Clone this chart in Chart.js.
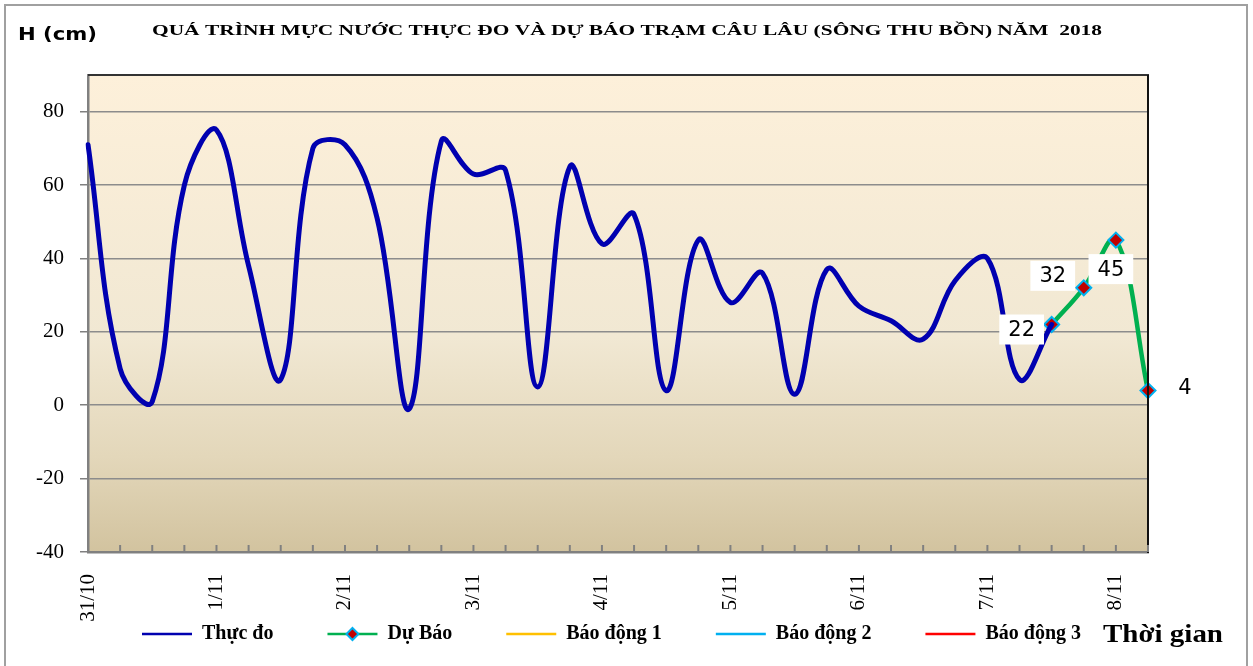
<!DOCTYPE html>
<html><head><meta charset="utf-8">
<script src="https://cdn.jsdelivr.net/npm/chart.js@4.4.1/dist/chart.umd.min.js"></script>
<style>html,body{margin:0;padding:0;background:#fff;} #wrap{position:relative;width:1253px;height:666px;} canvas{display:block}</style>
</head><body><div id="wrap"><canvas id="c"></canvas></div>
<script>
// ---- data ----
const dayLabels = ['31/10','1/11','2/11','3/11','4/11','5/11','6/11','7/11','8/11'];
const stepsPerDay = 4; // one category every 6 hours
const observed = [71, 10, 1, 60, 75, 38, 7, 70, 71, 51, -1, 72, 63, 64, 5, 65, 44, 52, 4, 45, 28, 36, 3, 37, 27, 23, 18, 34, 40, 7, 22];
const forecast = [22, 32, 45, 4];
const yTicks = [-40, -20, 0, 20, 40, 60, 80];
const seriesNames = ['Thực đo', 'Dự Báo', 'Báo động 1', 'Báo động 2', 'Báo động 3'];
const titleText = 'QUÁ TRÌNH MỰC NƯỚC THỰC ĐO VÀ DỰ BÁO TRẠM CÂU LÂU (SÔNG THU BỒN) NĂM  2018';
const yTitle = 'H (cm)';
const xTitle = 'Thời gian';

// ---- derived ----
const nCat = observed.length - 1 + forecast.length;
const categories = Array.from({length: nCat}, (_, i) => i % stepsPerDay === 0 ? (dayLabels[i / stepsPerDay] || '') : '');
const forecastData = Array(observed.length - 1).fill(null).concat(forecast);

// label offsets (px) relative to each forecast point
const labelOffsets = [[-30, 5], [-31, -12], [-5, 29], [37, -3]];

const SERIF = "'Liberation Serif', 'Times New Roman', serif";
const SANS = "'DejaVu Sans', Verdana, sans-serif";

function diamond(ctx, x, y, r, fill, stroke, lw) {
  ctx.beginPath();
  ctx.moveTo(x, y - r); ctx.lineTo(x + r, y); ctx.lineTo(x, y + r); ctx.lineTo(x - r, y); ctx.closePath();
  ctx.fillStyle = fill; ctx.fill();
  ctx.lineWidth = lw; ctx.strokeStyle = stroke; ctx.stroke();
}

// draw text horizontally stretched to a target width
function wideText(ctx, txt, font, x, y, targetW, align) {
  ctx.save();
  ctx.font = font;
  const w = ctx.measureText(txt).width;
  const sx = targetW / w;
  ctx.textBaseline = 'middle';
  ctx.textAlign = 'left';
  const left = align === 'center' ? x - targetW / 2 : x;
  ctx.translate(left, y);
  ctx.scale(sx, 1);
  ctx.fillStyle = '#000';
  ctx.fillText(txt, 0, 0);
  ctx.restore();
}

const decor = {
  id: 'decor',
  beforeDraw(chart) {
    const {ctx, chartArea: a} = chart;
    ctx.save();
    ctx.fillStyle = '#fff';
    ctx.fillRect(0, 0, chart.width, chart.height);
    const g = ctx.createLinearGradient(0, a.top, 0, a.bottom);
    g.addColorStop(0, '#FDF0DA');
    g.addColorStop(0.55, '#F1E8D3');
    g.addColorStop(0.8, '#E3D7BA');
    g.addColorStop(1, '#D2C39F');
    ctx.fillStyle = g;
    ctx.fillRect(a.left, a.top, a.right - a.left, a.bottom - a.top);
    ctx.restore();
  },
  afterDatasetsDraw(chart) {
    const {ctx} = chart;
    const meta = chart.getDatasetMeta(1);
    ctx.save();
    ctx.font = '21px ' + SANS;
    ctx.textAlign = 'center';
    ctx.textBaseline = 'middle';
    let k = 0;
    forecastData.forEach((v, i) => {
      if (v === null) return;
      const el = meta.data[i];
      const off = labelOffsets[k++] || [0, 0];
      const cx = el.x + off[0], cy = el.y + off[1];
      const txt = String(v);
      const w = ctx.measureText(txt).width + 18, h = 30;
      ctx.fillStyle = '#fff';
      ctx.fillRect(cx - w / 2, cy - h / 2, w, h);
      ctx.fillStyle = '#000';
      ctx.fillText(txt, cx, cy + 1);
    });
    ctx.restore();
  },
  afterDraw(chart) {
    const {ctx, chartArea: a} = chart;
    const xs = chart.scales.x;
    ctx.save();
    // top border of plot
    ctx.strokeStyle = '#333'; ctx.lineWidth = 2;
    ctx.beginPath(); ctx.moveTo(a.left, a.top); ctx.lineTo(a.right + 1, a.top); ctx.stroke();
    // right border of plot
    ctx.strokeStyle = '#111';
    ctx.beginPath(); ctx.moveTo(a.right, a.top); ctx.lineTo(a.right, a.bottom + 1); ctx.stroke();
    // inward tick marks on x axis
    ctx.strokeStyle = '#808080'; ctx.lineWidth = 2;
    for (let i = 0; i < categories.length; i++) {
      const px = xs.getPixelForTick(i);
      ctx.beginPath(); ctx.moveTo(px, a.bottom - 7); ctx.lineTo(px, a.bottom); ctx.stroke();
    }
    // diamond marker on the forecast legend item
    const lg = chart.legend;
    if (lg && lg.legendHitBoxes && lg.legendHitBoxes[1]) {
      const hb = lg.legendHitBoxes[1];
      diamond(ctx, hb.left + 25, hb.top + 10, 6, '#C00000', '#00B0F0', 2);
    }
    // titles
    wideText(ctx, titleText, 'bold 15px ' + SERIF, 627, 31, 950, 'center');
    wideText(ctx, xTitle, 'bold 26px ' + SERIF, 1103, 635, 120, 'left');
    wideText(ctx, yTitle, 'bold 18px ' + SANS, 18, 35, 79, 'left');
    // outer frame
    ctx.strokeStyle = '#a0a0a0'; ctx.lineWidth = 2;
    ctx.strokeRect(5, 5, 1242, 670);
    ctx.restore();
  }
};

new Chart(document.getElementById('c'), {
  type: 'line',
  data: {
    labels: categories,
    datasets: [
      {label: seriesNames[0], data: observed, borderColor: '#0000B0', backgroundColor: '#0000B0', borderWidth: 5,
       pointRadius: 0, tension: 0.38, borderCapStyle: 'round', borderJoinStyle: 'round', fill: false},
      {label: seriesNames[1], data: forecastData, borderColor: '#00B050', backgroundColor: '#C00000', borderWidth: 4.5,
       pointStyle: 'rectRot', pointRadius: 7.5, pointBackgroundColor: '#C00000', pointBorderColor: '#00B0F0', pointBorderWidth: 2,
       tension: 0.38, clip: false, fill: false},
      {label: seriesNames[2], data: [], borderColor: '#FFC000', backgroundColor: '#FFC000', borderWidth: 2},
      {label: seriesNames[3], data: [], borderColor: '#00B0F0', backgroundColor: '#00B0F0', borderWidth: 2},
      {label: seriesNames[4], data: [], borderColor: '#FF0000', backgroundColor: '#FF0000', borderWidth: 2}
    ]
  },
  options: {
    responsive: true,
    maintainAspectRatio: false,
    animation: false,
    devicePixelRatio: 1,
    events: [],
    layout: {padding: {left: 0, right: 0, top: 75, bottom: 12}},
    plugins: {
      title: {display: false},
      legend: {
        display: true, position: 'bottom', fullSize: false, align: 'start',
        labels: {
          usePointStyle: true, pointStyleWidth: 50, padding: 54, color: '#000',
          font: {family: SERIF, weight: 'bold', size: 20},
          sort: (a, b) => a.datasetIndex - b.datasetIndex,
          generateLabels(chart) {
            return chart.data.datasets.map((ds, i) => ({
              text: ds.label, datasetIndex: i, pointStyle: 'line',
              strokeStyle: ds.borderColor, fillStyle: ds.borderColor,
              lineWidth: 2.5, hidden: false, fontColor: '#000'
            }));
          }
        }
      },
      tooltip: {enabled: false}
    },
    scales: {
      x: {
        type: 'category',
        ticks: {autoSkip: false, minRotation: 90, maxRotation: 90, padding: 22, color: '#000',
                font: {family: SERIF, size: 21}},
        grid: {drawOnChartArea: false, drawTicks: false},
        border: {color: '#808080', width: 2.5},
        afterFit(s) {
          s.height = 18; s.paddingLeft = 0; s.paddingRight = 0;
          s._computeLabelArea = () => undefined; // let rotated labels extend below the thin axis box
        }
      },
      y: {
        type: 'linear', position: 'left', min: -40, max: 90,
        afterBuildTicks(s) { s.ticks = yTicks.map(v => ({value: v})); },
        ticks: {color: '#000', padding: 16, font: {family: SERIF, size: 21}},
        grid: {color: '#8c8c8c', lineWidth: 1.5, tickLength: 8, tickColor: '#808080'},
        border: {color: '#808080', width: 2.5},
        afterFit(s) { s.width = 88; }
      },
      y2: {
        type: 'linear', position: 'right', display: true,
        ticks: {display: false},
        grid: {drawOnChartArea: false, drawTicks: false},
        border: {display: false},
        afterFit(s) { s.width = 105; }
      }
    }
  },
  plugins: [decor]
});
</script></body></html>
